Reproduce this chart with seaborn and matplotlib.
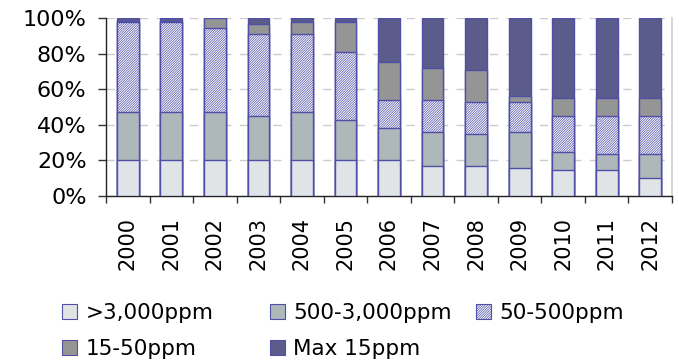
import matplotlib
matplotlib.use('Agg')
import matplotlib.pyplot as plt
import matplotlib.patches as mpatches
from matplotlib.ticker import PercentFormatter, FixedLocator
import numpy as np
import pandas as pd
import seaborn as sns

# Dati (quota % per anno e fascia di contenuto di zolfo)
years = ['2000', '2001', '2002', '2003', '2004', '2005', '2006',
         '2007', '2008', '2009', '2010', '2011', '2012']
over_3000 = [20, 20, 20, 20, 20, 20, 20, 16.9, 16.9, 15.7, 14.6, 14.6, 10.1]
p500_3000 = [27, 27, 27, 24.9, 27.2, 22.9, 18.2, 18.9, 17.7, 20.1, 9.9, 9.0, 13.5]
p50_500 = [50.5, 50.5, 47.2, 46.1, 43.8, 37.8, 15.9, 18.1, 18.0, 16.8, 20.3, 21.2, 21.2]
p15_50 = [1.0, 1.0, 5.8, 5.4, 6.6, 16.9, 21.2, 17.8, 18.2, 3.4, 10.1, 10.1, 10.1]
max_15 = [1.5, 1.5, 0, 3.6, 2.4, 2.4, 24.7, 28.3, 29.2, 44.0, 45.1, 45.1, 45.1]

labels = ['>3,000ppm', '500-3,000ppm', '50-500ppm', '15-50ppm', 'Max 15ppm']
colors = ['#e1e4e6', '#aeb8bb', '#ffffff', '#959595', '#5c5c8c']
hatches = ['', '', '/' * 14, '', '']
edge = '#4f4fa8'

df = pd.DataFrame({'year': years, labels[0]: over_3000, labels[1]: p500_3000,
                   labels[2]: p50_500, labels[3]: p15_50, labels[4]: max_15})

# Somme cumulate per le barre impilate
cum = df[labels].cumsum(axis=1)

sns.set_theme(style='white')
plt.rcParams['font.family'] = ['DejaVu Sans']
plt.rcParams['text.color'] = 'black'
plt.rcParams['xtick.color'] = 'black'
plt.rcParams['ytick.color'] = 'black'
plt.rcParams['hatch.linewidth'] = 0.5

fig = plt.figure(figsize=(6.79, 3.63), dpi=100)
ax = fig.add_axes([106 / 679, 1 - 196 / 363, 566 / 679, 178 / 363])

# Disegno dall'alto verso il basso, ogni barra copre la precedente
for i in reversed(range(len(labels))):
    sns.barplot(x=df['year'], y=cum[labels[i]], color=colors[i], saturation=1,
                edgecolor=edge, linewidth=1, hatch=hatches[i], width=0.5,
                errorbar=None, ax=ax, zorder=3)

ax.set_xlim(-0.5, len(years) - 0.5)
ax.set_ylim(0, 100)
ax.set_xlabel('')
ax.set_ylabel('')
ax.yaxis.set_major_formatter(PercentFormatter(100, decimals=0))
ax.set_yticks([0, 20, 40, 60, 80, 100])
ax.grid(axis='y', color='#cccccc', linestyle=(0, (6, 6)), linewidth=1, zorder=0)
ax.set_axisbelow(True)

ax.tick_params(axis='x', which='major', length=0, labelsize=15, labelrotation=90, pad=15)
ax.xaxis.set_minor_locator(FixedLocator(np.arange(-0.5, len(years), 1)))
ax.tick_params(axis='x', which='minor', bottom=True, length=5, width=1, color='#333333')
ax.tick_params(axis='y', left=True, length=6, width=1, color='#333333', labelsize=16, pad=8)

for s in ['left', 'bottom']:
    ax.spines[s].set_color('#222222')
    ax.spines[s].set_linewidth(1)
ax.spines['right'].set_color('#d0d0d0')
ax.spines['top'].set_visible(False)

# Legenda: tre colonne a passo fisso
handles = [mpatches.Patch(facecolor=c, edgecolor=edge, hatch=h, linewidth=0.8)
           for c, h in zip(colors, hatches)]
columns = [[0, 3], [1, 4], [2]]
col_x = [62, 270, 476]
for idx, x0 in zip(columns, col_x):
    fig.legend([handles[k] for k in idx], [labels[k] for k in idx],
               loc='upper left', bbox_to_anchor=(x0 / 679, 1 - 303 / 363),
               frameon=False, fontsize=15.5, handlelength=0.68, handleheight=0.68,
               handletextpad=0.4, labelspacing=0.75, borderpad=0, borderaxespad=0)

fig.savefig('out.png', dpi=100)
